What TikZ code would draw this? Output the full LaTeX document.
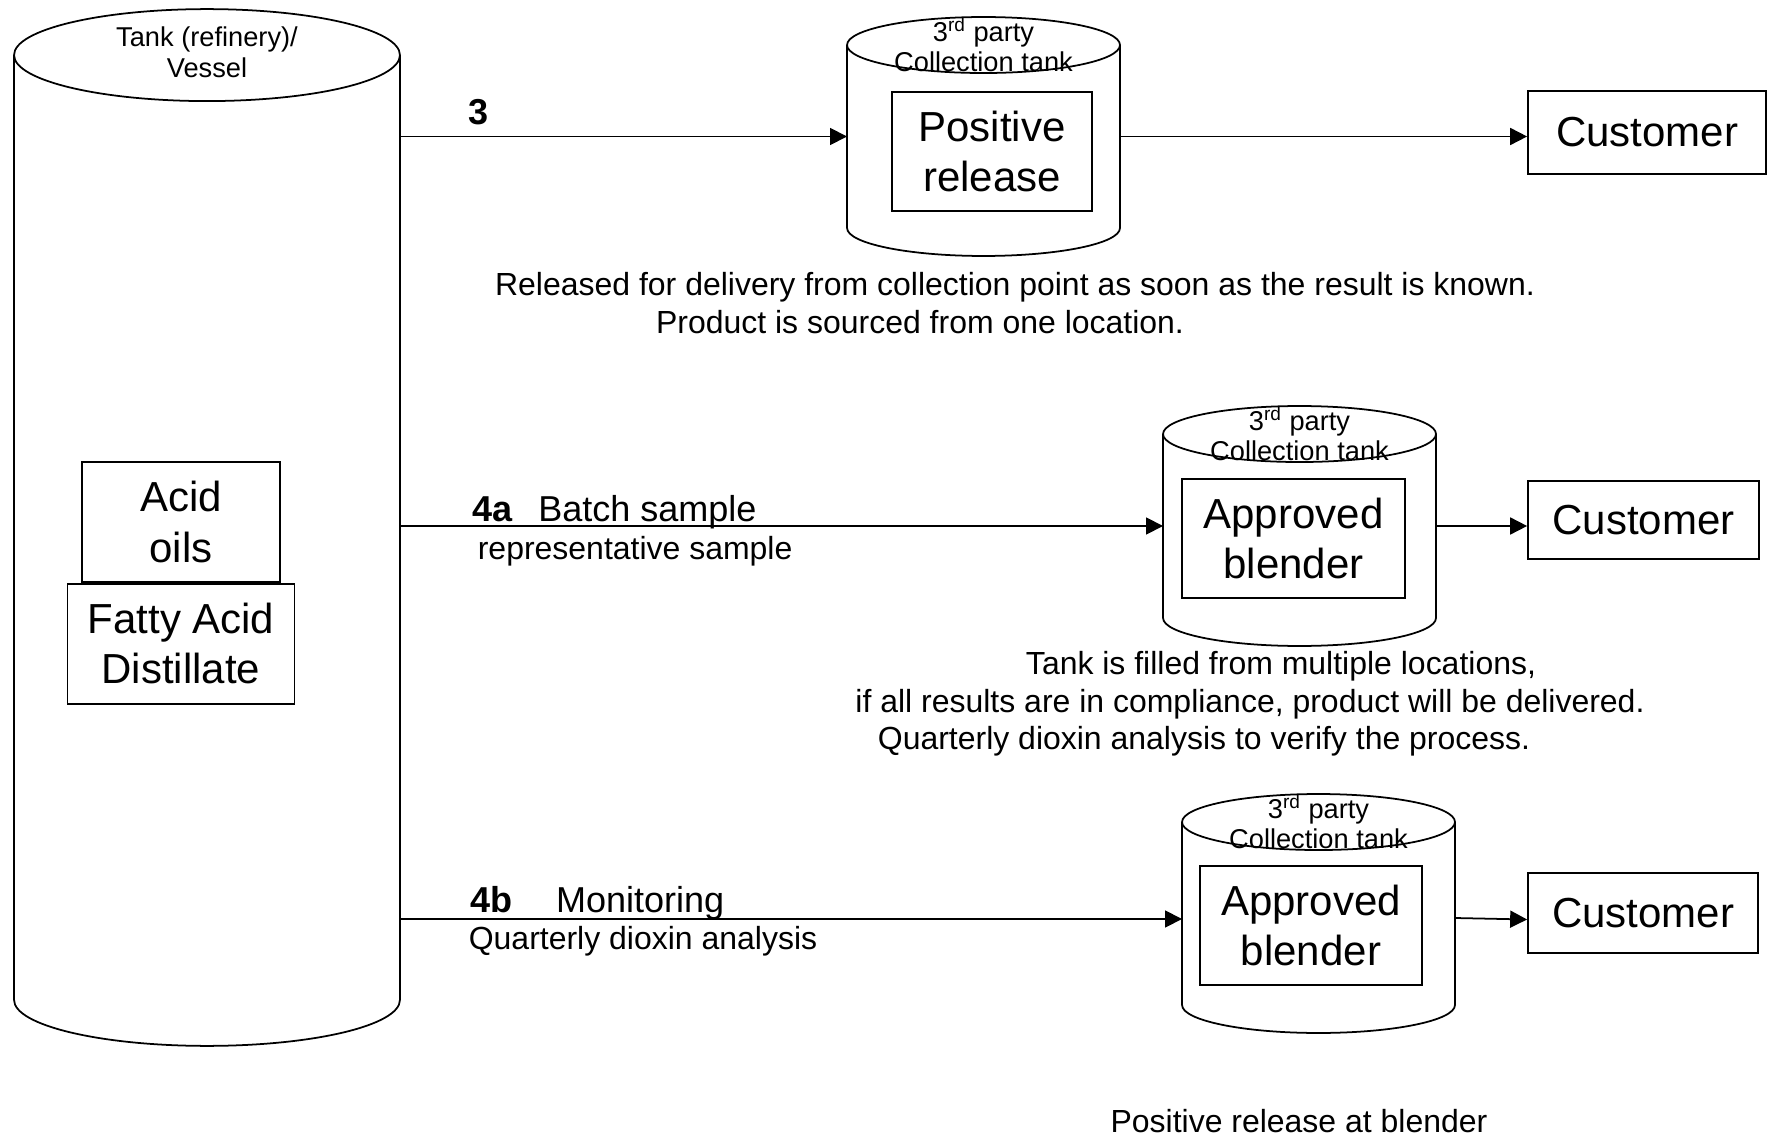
\documentclass[tikz,border=0pt]{standalone}
\usepackage{fontspec}
\setmainfont{Liberation Sans}
\usetikzlibrary{positioning,calc,arrows.meta}

\newcommand{\drawtank}[3]{%
  \draw (#1.north west) -- (#1.south west)
    arc[start angle=180, end angle=360, x radius=#2, y radius=#3] -- (#1.north east);
  \draw (#1.north) ellipse[x radius=#2, y radius=#3];
}

\begin{document}
\begin{tikzpicture}[
      x=0.02cm, y=-0.02cm,
      line width=1pt,
      >={Triangle[length=0.34cm,width=0.34cm]},
      body/.style = {inner sep=0pt, outer sep=0pt},
      txt/.style = {inner sep=0pt, align=center},
      tiny/.style = {txt, font=\fontsize{15.5}{17.5}\selectfont},
      capt/.style = {txt, font=\fontsize{18.2}{21}\selectfont},
      lbl/.style = {inner sep=0pt, font=\fontsize{20.5}{24}\selectfont},
      big/.style = {txt, font=\fontsize{23.9}{28.5}\selectfont},
      box/.style = {big, draw, minimum height=2.38cm},
      cust/.style = {big, draw}
      ]
      \useasboundingbox (0,0) rectangle (1775,1138);

      \node[body, minimum width=7.72cm, minimum height=18.9cm] (tank) at (207,527.5) {};
      \node[body, minimum width=5.46cm, minimum height=3.66cm] (col1) at (983.5,136.5) {};
      \node[body, minimum width=5.46cm, minimum height=3.68cm] (col2) at (1299.5,526) {};
      \node[body, minimum width=5.46cm, minimum height=3.66cm] (col3) at (1318.5,913.5) {};
      \drawtank{tank}{3.86cm}{0.92cm}
      \drawtank{col1}{2.73cm}{0.56cm}
      \drawtank{col2}{2.73cm}{0.56cm}
      \drawtank{col3}{2.73cm}{0.56cm}

      \node[tiny] (tanklbl) at ([yshift=0.06cm]tank.north) {Tank (refinery)/\\Vessel};
      \node[tiny] (col1lbl) at (col1.north) {3\textsuperscript{rd} party\\Collection tank};
      \node[tiny] (col2lbl) at (col2.north) {3\textsuperscript{rd} party\\Collection tank};
      \node[tiny] (col3lbl) at (col3.north) {3\textsuperscript{rd} party\\Collection tank};

      \node[box, minimum width=3.96cm, minimum height=2.4cm] (acid) at (181,522) {Acid\\oils};
      \node[box, minimum width=4.54cm, minimum height=2.4cm, below=0pt of acid] (fad) {Fatty Acid\\Distillate};

      \node[box, minimum width=4cm] (pr) at (992,151.5) {Positive\\release};
      \node[box, minimum width=4.46cm] (ab1) at (1293.5,538.5) {Approved\\blender};
      \node[box, minimum width=4.44cm] (ab2) at (1311,925.5) {Approved\\blender};

      \node[cust, minimum width=4.76cm, minimum height=1.66cm] (cu1) at (1647,132.5) {Customer};
      \node[cust, minimum width=4.62cm, minimum height=1.56cm] (cu2) at (1643.5,520) {Customer};
      \node[cust, minimum width=4.6cm, minimum height=1.6cm] (cu3) at (1643,913) {Customer};

      \draw[->] (tank.east |- col1.west) -- node[lbl, anchor=base west, pos=0, xshift=1.36cm, yshift=0.24cm] (l3) {\textbf{3}} (col1.west);
      \draw[->] (tank.east |- col2.west) -- node[lbl, anchor=base west, pos=0, xshift=1.44cm, yshift=0.1cm] (l4a) {\textbf{4a}\hspace{0.7em}Batch sample}
        node[capt, anchor=base west, pos=0, xshift=1.54cm, yshift=-0.68cm] (r4a) {representative sample} (col2.west);
      \draw[->] ([yshift=-0.11cm]tank.east |- col3.west) -- node[lbl, anchor=base west, pos=0, xshift=1.4cm, yshift=0.14cm] (l4b) {\textbf{4b}\hspace{1.2em}Monitoring}
        node[capt, anchor=base west, pos=0, xshift=1.36cm, yshift=-0.62cm] (r4b) {Quarterly dioxin analysis} ([yshift=-0.11cm]col3.west);

      \draw[->] (col1.east) -- (col1.east -| cu1.west);
      \draw[->] (col2.east) -- (col2.east -| cu2.west);
      \draw[->] ([yshift=-0.09cm]col3.east) -- ([yshift=-0.13cm]cu3.west);

      \node[capt] (c1a) at (1015,287) {Released for delivery from collection point as soon as the result is known.};
      \node[capt] (c1b) at (920,322) {Product is sourced from one location.};
      \node[capt] (c2a) at (1281,666) {Tank is filled from multiple locations,};
      \node[capt] (c2b) at (1250,704) {if all results are in compliance, product will be delivered.};
      \node[capt] (c2c) at (1204,741) {Quarterly dioxin analysis to verify the process.};
      \node[capt] (c3) at (1299,1121) {Positive release at blender};
    \end{tikzpicture}
\end{document}
